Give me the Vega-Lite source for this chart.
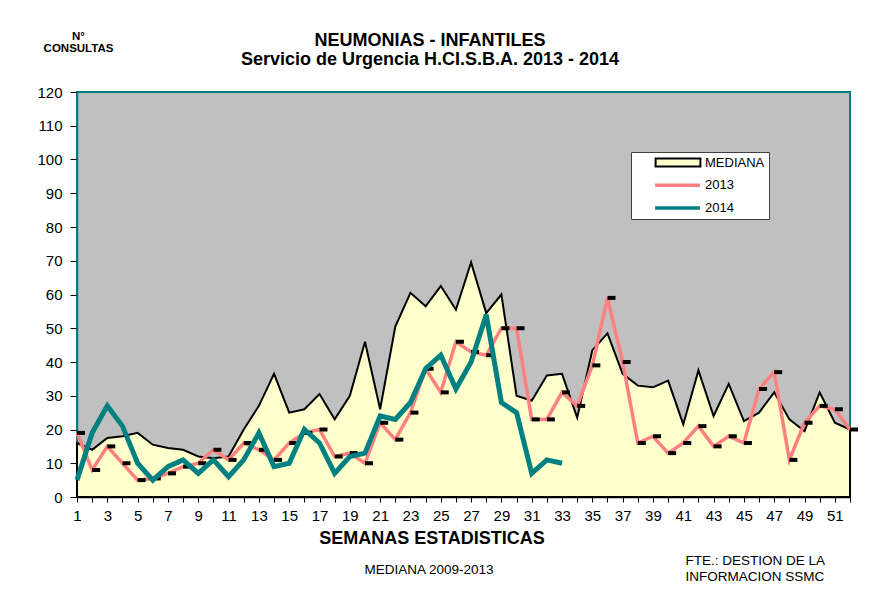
{
  "$schema": "https://vega.github.io/schema/vega-lite/v6.json",
  "width": 773,
  "height": 405,
  "autosize": "none",
  "padding": {"left": 77, "top": 92, "right": 25, "bottom": 99},
  "background": "white",
  "config": {
    "font": "Liberation Sans",
    "view": {"fill": "#C0C0C0", "stroke": "#008080", "strokeWidth": 2},
    "axis": {"grid": false}
  },
  "title": {
    "text": ["NEUMONIAS -  INFANTILES", "Servicio de Urgencia H.CI.S.B.A. 2013 - 2014"],
    "fontSize": 18,
    "fontWeight": "bold",
    "color": "black",
    "anchor": "middle",
    "frame": "group",
    "dx": -33.5,
    "offset": -38,
    "lineHeight": 19
  },
  "data": {
    "values": [
      {"semana": 1, "mediana": 16, "y2013": 19, "y2014": 5},
      {"semana": 2, "mediana": 14, "y2013": 8, "y2014": 19},
      {"semana": 3, "mediana": 17.5, "y2013": 15, "y2014": 27},
      {"semana": 4, "mediana": 18, "y2013": 10, "y2014": 21},
      {"semana": 5, "mediana": 19, "y2013": 5, "y2014": 10},
      {"semana": 6, "mediana": 15.5, "y2013": 5.5, "y2014": 5},
      {"semana": 7, "mediana": 14.5, "y2013": 7, "y2014": 9},
      {"semana": 8, "mediana": 14, "y2013": 9, "y2014": 11},
      {"semana": 9, "mediana": 12, "y2013": 10, "y2014": 7},
      {"semana": 10, "mediana": 11.5, "y2013": 14, "y2014": 11},
      {"semana": 11, "mediana": 12, "y2013": 11, "y2014": 6},
      {"semana": 12, "mediana": 20, "y2013": 16, "y2014": 11},
      {"semana": 13, "mediana": 27, "y2013": 14, "y2014": 19},
      {"semana": 14, "mediana": 36.5, "y2013": 11, "y2014": 9},
      {"semana": 15, "mediana": 25, "y2013": 16, "y2014": 10},
      {"semana": 16, "mediana": 26, "y2013": 19, "y2014": 20},
      {"semana": 17, "mediana": 30.5, "y2013": 20, "y2014": 16},
      {"semana": 18, "mediana": 23, "y2013": 12, "y2014": 7},
      {"semana": 19, "mediana": 30, "y2013": 13, "y2014": 12},
      {"semana": 20, "mediana": 46, "y2013": 10, "y2014": 13},
      {"semana": 21, "mediana": 26, "y2013": 22, "y2014": 24},
      {"semana": 22, "mediana": 50.5, "y2013": 17, "y2014": 23},
      {"semana": 23, "mediana": 60.5, "y2013": 25, "y2014": 28},
      {"semana": 24, "mediana": 56.5, "y2013": 38, "y2014": 38},
      {"semana": 25, "mediana": 62.5, "y2013": 31, "y2014": 42},
      {"semana": 26, "mediana": 55.5, "y2013": 46, "y2014": 32},
      {"semana": 27, "mediana": 69.5, "y2013": 43, "y2014": 40},
      {"semana": 28, "mediana": 54.5, "y2013": 42, "y2014": 54},
      {"semana": 29, "mediana": 60, "y2013": 50, "y2014": 28},
      {"semana": 30, "mediana": 30, "y2013": 50, "y2014": 25},
      {"semana": 31, "mediana": 28.5, "y2013": 23, "y2014": 7},
      {"semana": 32, "mediana": 36, "y2013": 23, "y2014": 11},
      {"semana": 33, "mediana": 36.5, "y2013": 31, "y2014": 10},
      {"semana": 34, "mediana": 23.5, "y2013": 27, "y2014": null},
      {"semana": 35, "mediana": 43.5, "y2013": 39, "y2014": null},
      {"semana": 36, "mediana": 48.5, "y2013": 59, "y2014": null},
      {"semana": 37, "mediana": 36.5, "y2013": 40, "y2014": null},
      {"semana": 38, "mediana": 33, "y2013": 16, "y2014": null},
      {"semana": 39, "mediana": 32.5, "y2013": 18, "y2014": null},
      {"semana": 40, "mediana": 34.5, "y2013": 13, "y2014": null},
      {"semana": 41, "mediana": 21.5, "y2013": 16, "y2014": null},
      {"semana": 42, "mediana": 37.5, "y2013": 21, "y2014": null},
      {"semana": 43, "mediana": 24, "y2013": 15, "y2014": null},
      {"semana": 44, "mediana": 33.5, "y2013": 18, "y2014": null},
      {"semana": 45, "mediana": 22.5, "y2013": 16, "y2014": null},
      {"semana": 46, "mediana": 25, "y2013": 32, "y2014": null},
      {"semana": 47, "mediana": 31, "y2013": 37, "y2014": null},
      {"semana": 48, "mediana": 23, "y2013": 11, "y2014": null},
      {"semana": 49, "mediana": 19.5, "y2013": 22, "y2014": null},
      {"semana": 50, "mediana": 31, "y2013": 27, "y2014": null},
      {"semana": 51, "mediana": 22, "y2013": 26, "y2014": null},
      {"semana": 52, "mediana": 20, "y2013": 20, "y2014": null}
    ]
  },
  "layer": [
    {
      "mark": {"type": "area", "fillOpacity": 1, "strokeWidth": 2},
      "encoding": {
        "x": {
          "field": "semana", "type": "quantitative",
          "scale": {"domain": [1, 52], "nice": false, "zero": false},
          "axis": {
            "orient": "bottom",
            "values": [1,2,3,4,5,6,7,8,9,10,11,12,13,14,15,16,17,18,19,20,21,22,23,24,25,26,27,28,29,30,31,32,33,34,35,36,37,38,39,40,41,42,43,44,45,46,47,48,49,50,51,52],
            "labelExpr": "datum.value % 2 == 1 ? datum.label : ''",
            "labelFlush": false,
            "labelOverlap": false,
            "labelFontSize": 15,
            "labelColor": "black",
            "labelPadding": 6,
            "tickSize": 5,
            "tickColor": "black",
            "domainColor": "black",
            "domainWidth": 1.5,
            "title": "SEMANAS ESTADISTICAS",
            "titleFontSize": 18,
            "titleFontWeight": "bold",
            "titleColor": "black",
            "titleX": 354.5,
            "titleY": 41,
            "titleAlign": "center",
            "titleBaseline": "middle"
          }
        },
        "y": {
          "field": "mediana", "type": "quantitative",
          "scale": {"domain": [0, 120], "nice": false},
          "axis": {
            "orient": "left",
            "values": [0,10,20,30,40,50,60,70,80,90,100,110,120],
            "labelFontSize": 15,
            "labelColor": "black",
            "labelPadding": 8,
            "tickSize": 7,
            "tickColor": "black",
            "domainColor": "#008080",
            "domainWidth": 1.5,
            "title": ["N°", "CONSULTAS"],
            "titleAngle": 0,
            "titleFontSize": 11.5,
            "titleFontWeight": "bold",
            "titleColor": "black",
            "titleLineHeight": 12,
            "titleX": 1,
            "titleY": -55.5,
            "titleAlign": "center",
            "titleBaseline": "middle"
          }
        },
        "fill": {
          "datum": "MEDIANA", "type": "nominal",
          "scale": {"domain": ["MEDIANA"], "range": ["#FFFFCC"]},
          "legend": {
            "orient": "none",
            "legendX": 554,
            "legendY": 60,
            "zindex": 2,
            "title": null,
            "padding": 4,
            "labelFontSize": 13,
            "labelColor": "black",
            "labelOffset": 57,
            "symbolSize": 64,
            "symbolStrokeWidth": 2,
            "symbolStrokeColor": "black",
            "symbolOffset": 0.5,
            "symbolType": "M3.4,-1H14.6V1H3.4Z",
            "labelExpr": "'\u00a0'"
          }
        },
        "stroke": {
          "datum": "MEDIANA", "type": "nominal",
          "scale": {"domain": ["MEDIANA", "2013", "2014"], "range": ["black", "#FF8080", "#008080"]},
          "legend": {
            "orient": "none",
            "legendX": 554,
            "legendY": 60,
            "zindex": 1,
            "title": null,
            "fillColor": "white",
            "strokeColor": "#404040",
            "padding": 4,
            "labelFontSize": 13,
            "labelColor": "black",
            "labelOffset": 57,
            "rowPadding": 7.7,
            "symbolSize": 64,
            "symbolStrokeWidth": 3.5,
            "symbolType": "M3.4,0H14.6",
            "labelExpr": "datum.label + '\u00a0\u00a0\u00a0\u00a0\u00a0\u00a0'"
          }
        }
      }
    },
    {
      "mark": {"type": "line", "strokeWidth": 3.5},
      "encoding": {
        "x": {
          "field": "semana", "type": "quantitative",
          "scale": {"domain": [1, 52], "nice": false, "zero": false},
          "axis": {
            "orient": "top",
            "domain": false, "ticks": false, "labels": false,
            "title": "MEDIANA 2009-2013",
            "titleFontSize": 13.5,
            "titleFontWeight": "normal",
            "titleColor": "black",
            "titleX": 351.5,
            "titleY": 477,
            "titleAlign": "center",
            "titleBaseline": "middle"
          }
        },
        "y": {
          "field": "y2013", "type": "quantitative",
          "scale": {"domain": [0, 120], "nice": false},
          "axis": {
            "orient": "right",
            "domain": false, "ticks": false, "labels": false,
            "title": ["FTE.: DESTION DE LA", "INFORMACION SSMC"],
            "titleAngle": 0,
            "titleFontSize": 13.5,
            "titleFontWeight": "normal",
            "titleColor": "black",
            "titleLineHeight": 16,
            "titleX": -165,
            "titleY": 468.3,
            "titleAlign": "left",
            "titleBaseline": "middle"
          }
        },
        "stroke": {"datum": "2013", "type": "nominal"}
      }
    },
    {
      "mark": {"type": "point", "shape": "M0,-0.5H2V0.5H0Z", "size": 64, "filled": true, "fill": "black", "opacity": 1, "strokeWidth": 0},
      "encoding": {
        "x": {"field": "semana", "type": "quantitative", "scale": {"domain": [1, 52], "nice": false, "zero": false}, "axis": null},
        "y": {"field": "y2013", "type": "quantitative", "scale": {"domain": [0, 120], "nice": false}, "axis": null}
      }
    },
    {
      "mark": {"type": "line", "strokeWidth": 5},
      "encoding": {
        "x": {"field": "semana", "type": "quantitative", "scale": {"domain": [1, 52], "nice": false, "zero": false}, "axis": null},
        "y": {"field": "y2014", "type": "quantitative", "scale": {"domain": [0, 120], "nice": false}, "axis": null},
        "stroke": {"datum": "2014", "type": "nominal"}
      }
    }
  ],
  "resolve": {"scale": {"x": "independent", "y": "independent"}}
}
